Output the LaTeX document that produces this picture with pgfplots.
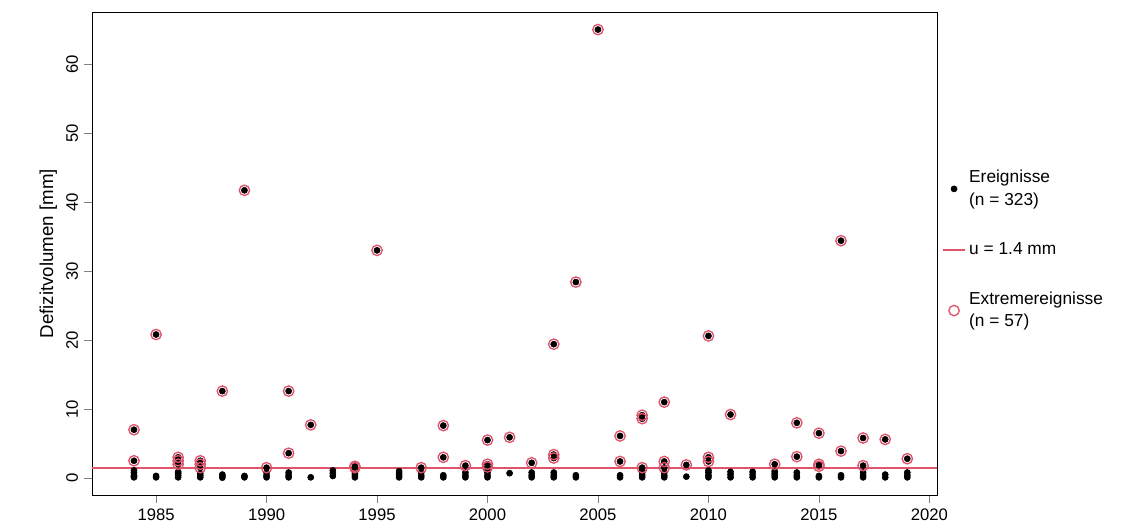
\documentclass[border=0pt]{standalone}
\usepackage{pgfplots}
\pgfplotsset{compat=1.18}
\usepackage{fontspec}
\setmainfont{Liberation Sans}
\definecolor{rred}{HTML}{DF536B}
\begin{document}
\fontsize{13}{15}\selectfont
\begin{tikzpicture}
\path[use as bounding box] (-69pt,-27pt) rectangle (786pt,371.25pt);
\begin{axis}[at={(0pt,0pt)},anchor=south west,
 width=634pt,height=362pt,scale only axis,
 xmin=1982.1,xmax=2020.36,ymin=-2.46,ymax=67.5,
 xtick={1985,1990,...,2020},ytick={0,10,...,60},
 xtick pos=bottom,ytick pos=left,
 x tick label style={/pgf/number format/1000 sep={}},
 yticklabel style={rotate=90,anchor=south},
 tick align=outside,major tick length=6pt,
 /pgf/number format/assume math mode=true,
 ylabel={Defizitvolumen [mm]},
 ylabel style={yshift=-2pt,font=\fontsize{14}{16}\selectfont},
 tick label style={font=\fontsize{12.5}{14}\selectfont},
 legend style={at={(1.0,0.685)},anchor=north west,draw=none,fill=none,
   font=\fontsize{13}{17}\selectfont,row sep=22pt,
   nodes={align=left}},
 legend cell align=left,
 clip=false]
\addplot[only marks,mark=*,mark size=2.3pt,black] coordinates {
(1984,0.1)(1984,0.4)(1984,0.8)(1984,1.1)(1984,0.2)
(1985,0.1)(1985,0.3)
(1986,0.1)(1986,0.4)(1986,0.7)(1986,0.9)
(1987,0.1)(1987,0.4)(1987,0.7)
(1988,0.05)(1988,0.3)(1988,0.5)
(1989,0.1)(1989,0.3)
(1990,0.1)(1990,0.4)(1990,0.8)
(1991,0.1)(1991,0.4)(1991,0.8)
(1992,0.1)
(1993,0.3)(1993,0.7)(1993,1.1)
(1994,0.1)(1994,0.4)(1994,0.7)(1994,1.0)
(1996,0.1)(1996,0.4)(1996,0.7)(1996,1.0)
(1997,0.1)(1997,0.4)(1997,0.8)
(1998,0.1)(1998,0.4)
(1999,0.1)(1999,0.4)(1999,0.8)
(2000,0.1)(2000,0.4)(2000,0.8)(2000,1.1)
(2001,0.7)
(2002,0.1)(2002,0.4)(2002,0.8)
(2003,0.1)(2003,0.4)(2003,0.8)
(2004,0.1)(2004,0.4)
(2006,0.1)(2006,0.4)
(2007,0.1)(2007,0.4)(2007,0.8)(2007,1.1)
(2008,0.1)(2008,0.4)(2008,0.8)
(2009,0.2)
(2010,0.1)(2010,0.4)(2010,0.8)(2010,1.1)
(2011,0.1)(2011,0.5)(2011,0.9)
(2012,0.1)(2012,0.5)(2012,0.9)
(2013,0.1)(2013,0.4)(2013,0.7)(2013,1.0)
(2014,0.1)(2014,0.4)(2014,0.8)
(2015,0.1)(2015,0.3)
(2016,0.1)(2016,0.4)
(2017,0.1)(2017,0.4)(2017,0.8)
(2018,0.1)(2018,0.5)
(2019,0.1)(2019,0.4)(2019,0.8)
(1984,7.0)(1984,2.5)(1985,20.8)(1986,3.0)(1986,2.5)(1986,2.0)
(1987,2.5)(1987,2.0)(1987,1.5)(1988,12.6)(1989,41.7)(1990,1.5)
(1991,12.6)(1991,3.6)(1992,7.7)(1994,1.7)(1994,1.5)(1995,33.0)
(1997,1.5)(1998,7.6)(1998,3.0)(1999,1.8)(2000,5.5)(2000,2.0)(2000,1.6)
(2001,5.9)(2002,2.2)(2003,19.4)(2003,3.4)(2003,2.9)(2004,28.4)(2005,65.0)
(2006,6.1)(2006,2.4)(2007,9.1)(2007,8.6)(2007,1.5)(2008,11.0)(2008,2.4)(2008,1.5)
(2009,1.9)(2010,20.6)(2010,3.0)(2010,2.4)(2011,9.2)(2013,2.0)(2014,8.0)(2014,3.1)
(2015,6.5)(2015,2.0)(2015,1.7)(2016,34.4)(2016,3.9)(2017,5.8)(2017,1.8)(2018,5.6)(2019,2.8)
};
\addlegendentry{Ereignisse\\(n = 323)}
\addplot[color=rred,line width=1.6pt,no markers] coordinates {(1982.1,1.4)(2020.36,1.4)};
\addlegendentry{u = 1.4 mm}
\addplot[only marks,mark=o,mark size=3.9pt,rred,line width=1pt] coordinates {
(1984,7.0)(1984,2.5)(1985,20.8)(1986,3.0)(1986,2.5)(1986,2.0)
(1987,2.5)(1987,2.0)(1987,1.5)(1988,12.6)(1989,41.7)(1990,1.5)
(1991,12.6)(1991,3.6)(1992,7.7)(1994,1.7)(1994,1.5)(1995,33.0)
(1997,1.5)(1998,7.6)(1998,3.0)(1999,1.8)(2000,5.5)(2000,2.0)(2000,1.6)
(2001,5.9)(2002,2.2)(2003,19.4)(2003,3.4)(2003,2.9)(2004,28.4)(2005,65.0)
(2006,6.1)(2006,2.4)(2007,9.1)(2007,8.6)(2007,1.5)(2008,11.0)(2008,2.4)(2008,1.5)
(2009,1.9)(2010,20.6)(2010,3.0)(2010,2.4)(2011,9.2)(2013,2.0)(2014,8.0)(2014,3.1)
(2015,6.5)(2015,2.0)(2015,1.7)(2016,34.4)(2016,3.9)(2017,5.8)(2017,1.8)(2018,5.6)(2019,2.8)
};
\addlegendentry{Extremereignisse\\(n = 57)}
\end{axis}
\end{tikzpicture}
\end{document}
